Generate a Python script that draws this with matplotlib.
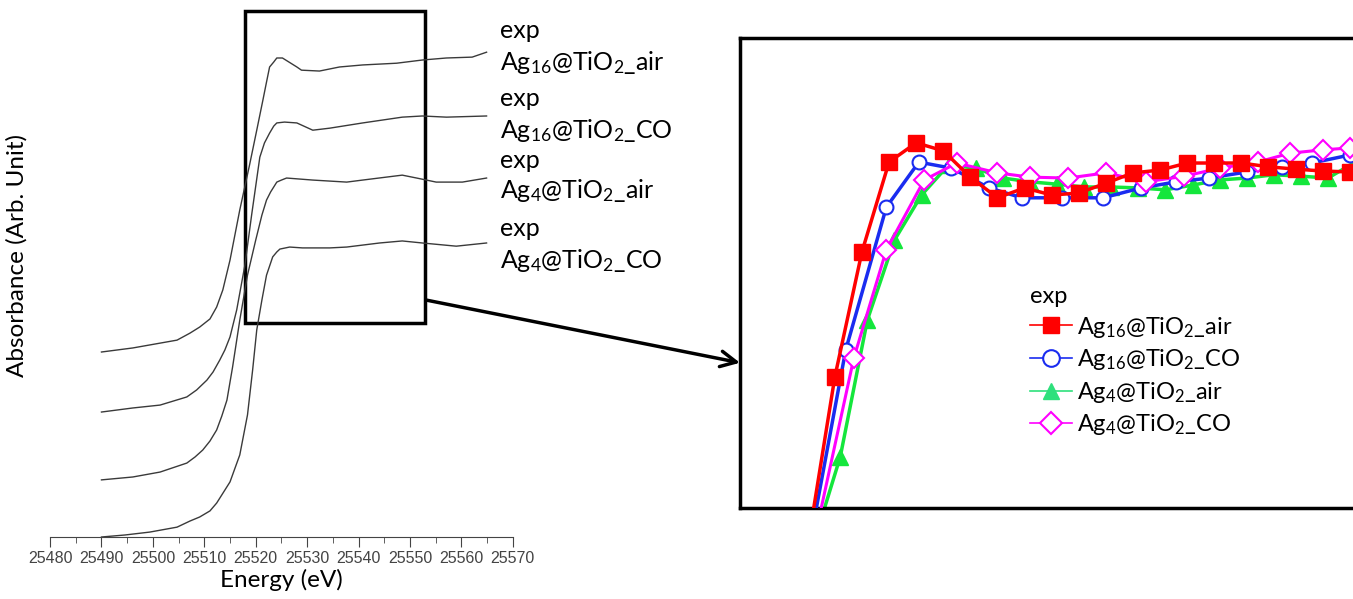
import matplotlib
matplotlib.use("Agg")
import matplotlib.pyplot as plt
from matplotlib.patches import Rectangle
from matplotlib.lines import Line2D

plt.rcParams['font.family'] = ['Lato', 'DejaVu Sans']
plt.rcParams['mathtext.default'] = 'regular'

# ---------------- main panel: stacked XANES spectra ----------------
e_ag4_co = [25490, 25494.6, 25499.4, 25504.7, 25507.2, 25509.1, 25511.1, 25512.4, 25513.4,
            25515.0, 25516.9, 25518.4, 25519.4, 25520.2, 25521.2, 25522.1, 25523.3,
            25524.1, 25524.7, 25526.6, 25529.1, 25534.4, 25537.7, 25544.1, 25548.5,
            25552.4, 25559.0, 25564.9]
mu_ag4_co = [0.000, 0.007, 0.017, 0.034, 0.055, 0.069, 0.090, 0.117, 0.145,
             0.190, 0.283, 0.421, 0.576, 0.714, 0.817, 0.903, 0.966,
             0.983, 0.993, 1.000, 0.997, 0.997, 1.000, 1.014, 1.021,
             1.014, 1.003, 1.014]

e_ag4_air = [25490, 25496.1, 25501.4, 25506.6, 25508.2, 25509.7, 25511.1, 25512.4, 25513.4,
             25514.4, 25515.5, 25516.9, 25518.4, 25520.0, 25521.2, 25522.1, 25522.9,
             25524.1, 25525.0, 25526.0, 25531.1, 25537.7, 25540.8, 25548.5, 25551.3,
             25555.1, 25560.2, 25564.9]
mu_ag4_air = [0.197, 0.207, 0.224, 0.255, 0.276, 0.300, 0.331, 0.369, 0.417,
              0.472, 0.586, 0.748, 0.903, 1.024, 1.110, 1.162, 1.190,
              1.224, 1.231, 1.238, 1.231, 1.224, 1.231, 1.248, 1.238,
              1.224, 1.224, 1.238]

e_ag16_co = [25490, 25496.1, 25501.4, 25506.6, 25508.5, 25510.5, 25511.7, 25513.0, 25514.0,
             25515.0, 25516.3, 25517.9, 25519.2, 25520.8, 25521.7, 25522.7, 25523.5,
             25524.1, 25525.6, 25528.0, 25531.1, 25534.4, 25540.8, 25548.5, 25552.4,
             25557.1, 25564.9]
mu_ag16_co = [0.431, 0.445, 0.455, 0.483, 0.507, 0.541, 0.569, 0.610, 0.645,
              0.690, 0.783, 0.938, 1.110, 1.310, 1.359, 1.393, 1.417,
              1.428, 1.431, 1.428, 1.403, 1.410, 1.428, 1.448, 1.452,
              1.448, 1.452]

e_ag16_air = [25490, 25496.1, 25504.7, 25507.2, 25509.1, 25511.1, 25512.4, 25513.6,
              25515.0, 25516.9, 25518.8, 25520.2, 25521.4, 25522.1, 25522.7, 25523.5,
              25524.1, 25525.2, 25528.0, 25528.9, 25532.4, 25536.3, 25540.8, 25547.4,
              25552.4, 25557.1, 25562.1, 25564.9]
mu_ag16_air = [0.638, 0.652, 0.679, 0.703, 0.724, 0.752, 0.793, 0.852,
               0.955, 1.128, 1.283, 1.403, 1.507, 1.569, 1.621, 1.638,
               1.652, 1.652, 1.621, 1.610, 1.607, 1.621, 1.628, 1.634,
               1.645, 1.652, 1.655, 1.672]

main_labels = ['Ag$_{16}$@TiO$_2$_air', 'Ag$_{16}$@TiO$_2$_CO',
               'Ag$_4$@TiO$_2$_air', 'Ag$_4$@TiO$_2$_CO']

# ---------------- inset: normalised overlay near the edge ----------------
e_red = [25518, 25519, 25520, 25521, 25522, 25523, 25524, 25525, 25526, 25527, 25528,
         25529, 25530, 25531, 25532, 25533, 25534, 25535, 25536, 25537, 25538, 25539]
mu_red = [0.221, 0.579, 0.845, 1.036, 1.077, 1.060, 1.004, 0.960, 0.981, 0.966, 0.970,
          0.991, 1.013, 1.019, 1.034, 1.034, 1.034, 1.026, 1.021, 1.017, 1.015, 1.019]

e_blue = [25518.1, 25519.4, 25520.9, 25522.1, 25523.3, 25524.7, 25525.9, 25527.4, 25528.9,
          25530.3, 25531.6, 25532.8, 25534.2, 25535.5, 25536.6, 25538.0, 25539.3]
mu_blue = [0.232, 0.636, 0.940, 1.036, 1.023, 0.981, 0.960, 0.960, 0.960,
           0.981, 0.994, 1.002, 1.015, 1.026, 1.034, 1.051, 1.062]

e_green = [25518.2, 25519.2, 25520.2, 25521.2, 25522.2, 25523.2, 25524.2, 25525.2, 25526.2,
           25527.2, 25528.2, 25529.2, 25530.2, 25531.2, 25532.2, 25533.2, 25534.2, 25535.2,
           25536.2, 25537.2, 25538.2, 25539.2]
mu_green = [0.221, 0.409, 0.700, 0.870, 0.966, 1.030, 1.023, 1.002, 0.994,
            0.989, 0.983, 0.983, 0.981, 0.977, 0.987, 0.998, 1.002, 1.009,
            1.006, 1.002, 1.036, 1.040]

e_mag = [25518.4, 25519.7, 25520.9, 25522.3, 25523.5, 25525.0, 25526.2, 25527.6, 25529.0,
         25530.5, 25531.9, 25533.2, 25534.6, 25535.8, 25537.0, 25538.0, 25539.3]
mu_mag = [0.274, 0.619, 0.849, 0.998, 1.034, 1.013, 1.004, 1.002, 1.013,
          0.994, 1.006, 1.023, 1.036, 1.055, 1.062, 1.066, 1.072]

fig = plt.figure(figsize=(13.53, 5.99), dpi=100)

ax = fig.add_axes([0.037, 0.1035, 0.342, 0.8965])
for e, mu in [(e_ag16_air, mu_ag16_air), (e_ag16_co, mu_ag16_co),
              (e_ag4_air, mu_ag4_air), (e_ag4_co, mu_ag4_co)]:
    ax.plot(e, mu, color='#3a3a3a', lw=1.0)

ax.set_xlim(25480, 25570)
ax.set_ylim(0, 1.852)
ax.set_xticks(range(25480, 25571, 10))
ax.set_xticks(range(25485, 25570, 10), minor=True)
ax.set_yticks([])
for s in ['left', 'top', 'right']:
    ax.spines[s].set_visible(False)
ax.spines['bottom'].set_color('#444444')
ax.tick_params(axis='x', which='major', direction='out', length=7, color='#444444',
               labelsize=11.5, labelcolor='#444444', pad=3)
ax.tick_params(axis='x', which='minor', direction='out', length=4, color='#444444')
for lab in ax.get_xticklabels():
    lab.set_fontfamily('Liberation Sans')
ax.set_xlabel('Energy (eV)', fontsize=17.5, labelpad=2)
ax.set_ylabel('Absorbance (Arb. Unit)', fontsize=17.5)
ax.yaxis.set_label_coords(-0.048, 0.525)

# zoom box
ax.add_patch(Rectangle((25517.9, 0.738), 35.1, 1.076, fill=False, lw=2.5,
                       edgecolor='black', clip_on=False))

# curve labels
label_y = [(30, 62), (98, 130), (160, 190), (228, 260)]
for (y1, y2), lab in zip(label_y, main_labels):
    fig.text(500 / 1353, 1 - y1 / 599, 'exp', fontsize=18, va='center')
    fig.text(500 / 1353, 1 - y2 / 599, lab, fontsize=18, va='center')

# inset
ax2 = fig.add_axes([740 / 1353, 91 / 599, 613 / 1353, 470 / 599])
ax2.plot(e_green, mu_green, color='#14e63c', lw=2.5, marker='^', ms=11, zorder=2)
ax2.plot(e_blue, mu_blue, color='#1a2cf0', lw=2.5, marker='o', ms=10, mfc='white',
         mec='#1a2cf0', mew=1.5, zorder=3)
ax2.plot(e_mag, mu_mag, color='#ff00ff', lw=2.2, marker='D', ms=10, mfc='white',
         mec='#ff00ff', mew=1.5, zorder=4)
ax2.plot(e_red, mu_red, color='#ff0000', lw=2.5, marker='s', ms=11, zorder=5)
ax2.set_xlim(25515.5, 25538.12)
ax2.set_ylim(0.3, 1.3)
ax2.set_xticks([])
ax2.set_yticks([])
ax2.spines['right'].set_visible(False)
for s in ['left', 'top', 'bottom']:
    ax2.spines[s].set_linewidth(2.5)

handles = [
    Line2D([], [], color='#ff0000', lw=1.2, marker='s', ms=12),
    Line2D([], [], color='#1a2cf0', lw=1.2, marker='o', ms=12, mfc='white', mew=1.5),
    Line2D([], [], color='#2ee07c', lw=1.2, marker='^', ms=12),
    Line2D([], [], color='#ff00ff', lw=1.2, marker='D', ms=11, mfc='white', mew=1.5),
]
leg = ax2.legend(handles, main_labels, title='exp', loc='upper left',
                 bbox_to_anchor=(0.473, 0.472), frameon=False, fontsize=17,
                 title_fontsize=17, alignment='left', handlelength=1.78,
                 handletextpad=0.2, labelspacing=0.32, borderpad=0, borderaxespad=0)

# arrow from box to inset
ax.annotate('', xy=(0, 0.309), xycoords=ax2.transAxes,
            xytext=(25553.2, 0.817), textcoords='data',
            arrowprops=dict(arrowstyle='->', lw=2.5, color='black',
                            mutation_scale=28, shrinkA=0, shrinkB=0))

fig.savefig('out.png', dpi=100)
